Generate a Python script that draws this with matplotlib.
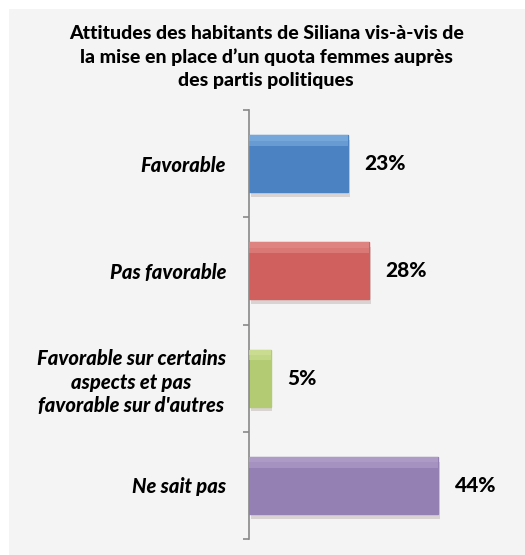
import numpy as np
import matplotlib.pyplot as plt
from matplotlib.patches import Rectangle

# data
categories = ['Favorable', 'Pas favorable',
              'Favorable sur certains\naspects et pas\nfavorable sur d\'autres',
              'Ne sait pas']
values = [23, 28, 5, 44]
labels = ['23%', '28%', '5%', '44%']
colors = ['#4b82c2', '#d0605d', '#b3cc73', '#9580b4']
tops = ['#7fb0e0', '#e48c89', '#cfe197', '#b4a2cb']

plt.rcParams['font.family'] = ['Lato', 'DejaVu Sans']

fig = plt.figure(figsize=(5.25, 5.55), dpi=100)
fig.patches.append(Rectangle((9/525, 0), 1, 1 - 9/555, transform=fig.transFigure,
                             facecolor='#f4f4f4', edgecolor='none', zorder=-10))

ax = fig.add_axes([249/525, 16/555, 258/525, 429/555])
ax.patch.set_alpha(0)

y = np.arange(len(categories))
h = 0.53

#shadow
ax.barh(y + 0.045, values, height=h, left=0.4, color='#7a6060', alpha=0.22, zorder=1)
#main bars
ax.barh(y, values, height=h, color=colors, edgecolor=colors, zorder=2)
#soft highlight on top
ax.barh(y - h/2 + 0.05, values, height=0.1, color=tops, alpha=0.55, zorder=3)
ax.barh(y - h/2 + 0.025, values, height=0.05, color=tops, alpha=0.6, zorder=3)

for yi, v, lab in zip(y, values, labels):
    ax.text(v + 3.8, yi, lab, va='center', ha='left', fontsize=15, fontweight=900)

ax.set_xlim(0, 60)
ax.set_ylim(3.5, -0.5)
ax.set_xticks([])
ax.set_yticks(y)
ax.set_yticklabels(categories, fontsize=14.5, fontweight=900, style='italic',
                   multialignment='center', linespacing=1.3)
ax.tick_params(axis='y', which='major', length=0, pad=16.5)
ax.set_yticks(np.arange(-0.5, 4, 1), minor=True)
ax.tick_params(axis='y', which='minor', length=4.5, color='#888888', width=1.2)

for s in ['top', 'right', 'bottom']:
    ax.spines[s].set_visible(False)
ax.spines['left'].set_color('#888888')
ax.spines['left'].set_linewidth(1.2)

fig.text(0.507, 1 - 57/555, 'Attitudes des habitants de Siliana vis-à-vis de\n'
         'la mise en place d\u2019un quota femmes auprès\ndes partis politiques',
         ha='center', va='center', fontsize=14, fontweight=900, linespacing=1.4)

plt.savefig('out.png', dpi=100)
